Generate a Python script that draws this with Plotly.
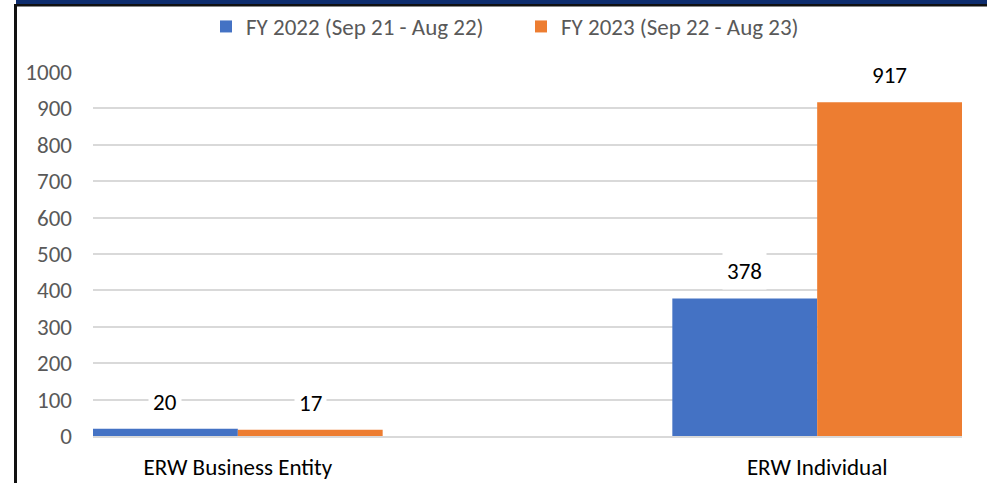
import plotly.graph_objects as go

categories = ["ERW Business Entity", "ERW Individual"]
series_names = ["FY 2022 (Sep 21 - Aug 22)", "FY 2023 (Sep 22 - Aug 23)"]
fy2022 = [20, 378]
fy2023 = [17, 917]
y_ticks = [0, 100, 200, 300, 400, 500, 600, 700, 800, 900, 1000]

colors = ["#4472C4", "#ED7D31"]
W, H = 987, 483
L, R, T, B = 93, 25, 72, 47
FONT = "Carlito, Calibri, Lato, sans-serif"
FS = 23

x_idx = list(range(len(categories)))
fig = go.Figure()
for name, vals, col in zip(series_names, [fy2022, fy2023], colors):
    fig.add_trace(go.Bar(x=x_idx, y=vals, name=name, marker=dict(color=col, line=dict(width=0))))

# data labels with white background (Excel style)
bar_w = 0.25
for k, vals in enumerate([fy2022, fy2023]):
    off = (k - 0.5) * bar_w
    for i, v in enumerate(vals):
        fig.add_annotation(x=i + off, y=v, text=str(v), showarrow=False, yanchor="bottom",
                           yshift=8, bgcolor="white", borderpad=4,
                           font=dict(family=FONT, size=FS, color="#000000"))

pw = W - L - R
ph = H - T - B
def px(xp):
    return (xp - L) / pw
def py(yp):
    return (H - B - yp) / ph

shapes = [
    dict(type="rect", xref="paper", yref="paper", x0=px(16), x1=px(987), y0=py(0), y1=py(4.5),
         fillcolor="#0E2D6E", line=dict(width=0), layer="above"),
    dict(type="rect", xref="paper", yref="paper", x0=px(14), x1=px(987), y0=py(4), y1=py(6.5),
         fillcolor="#111111", line=dict(width=0), layer="above"),
    dict(type="rect", xref="paper", yref="paper", x0=px(14), x1=px(17), y0=py(483), y1=py(4),
         fillcolor="#111111", line=dict(width=0), layer="above"),
]

fig.update_layout(
    width=W, height=H,
    margin=dict(l=L, r=R, t=T, b=B, pad=0, autoexpand=False),
    paper_bgcolor="white", plot_bgcolor="white",
    barmode="group", bargap=0.5, bargroupgap=0,
    font=dict(family=FONT, size=FS, color="#595959"),
    legend=dict(orientation="h", x=px(206), xanchor="left", y=py(26.5), yanchor="middle",
                font=dict(family=FONT, size=FS, color="#595959"), itemclick=False,
                entrywidth=270, itemwidth=30,
                traceorder="normal", bgcolor="rgba(0,0,0,0)"),
    shapes=shapes,
    xaxis=dict(tickmode="array", tickvals=x_idx, ticktext=categories, range=[-0.25, 1.25],
               showgrid=False, zeroline=False, showline=True, linecolor="#D9D9D9", linewidth=1.5,
               ticks="", tickfont=dict(family=FONT, size=FS, color="#000000"), ticklabelstandoff=10,
               automargin=False),
    yaxis=dict(range=[0, 1000], tickmode="array", tickvals=y_ticks, showgrid=True,
               gridcolor="#D9D9D9", gridwidth=1.5, zeroline=False, showline=False, ticks="",
               tickfont=dict(family=FONT, size=FS, color="#595959"), ticklabelstandoff=20,
               automargin=False),
)

fig.write_html("out.html", config={"displayModeBar": False},
               post_script="document.body.style.margin='0';document.body.style.overflow='hidden';")
